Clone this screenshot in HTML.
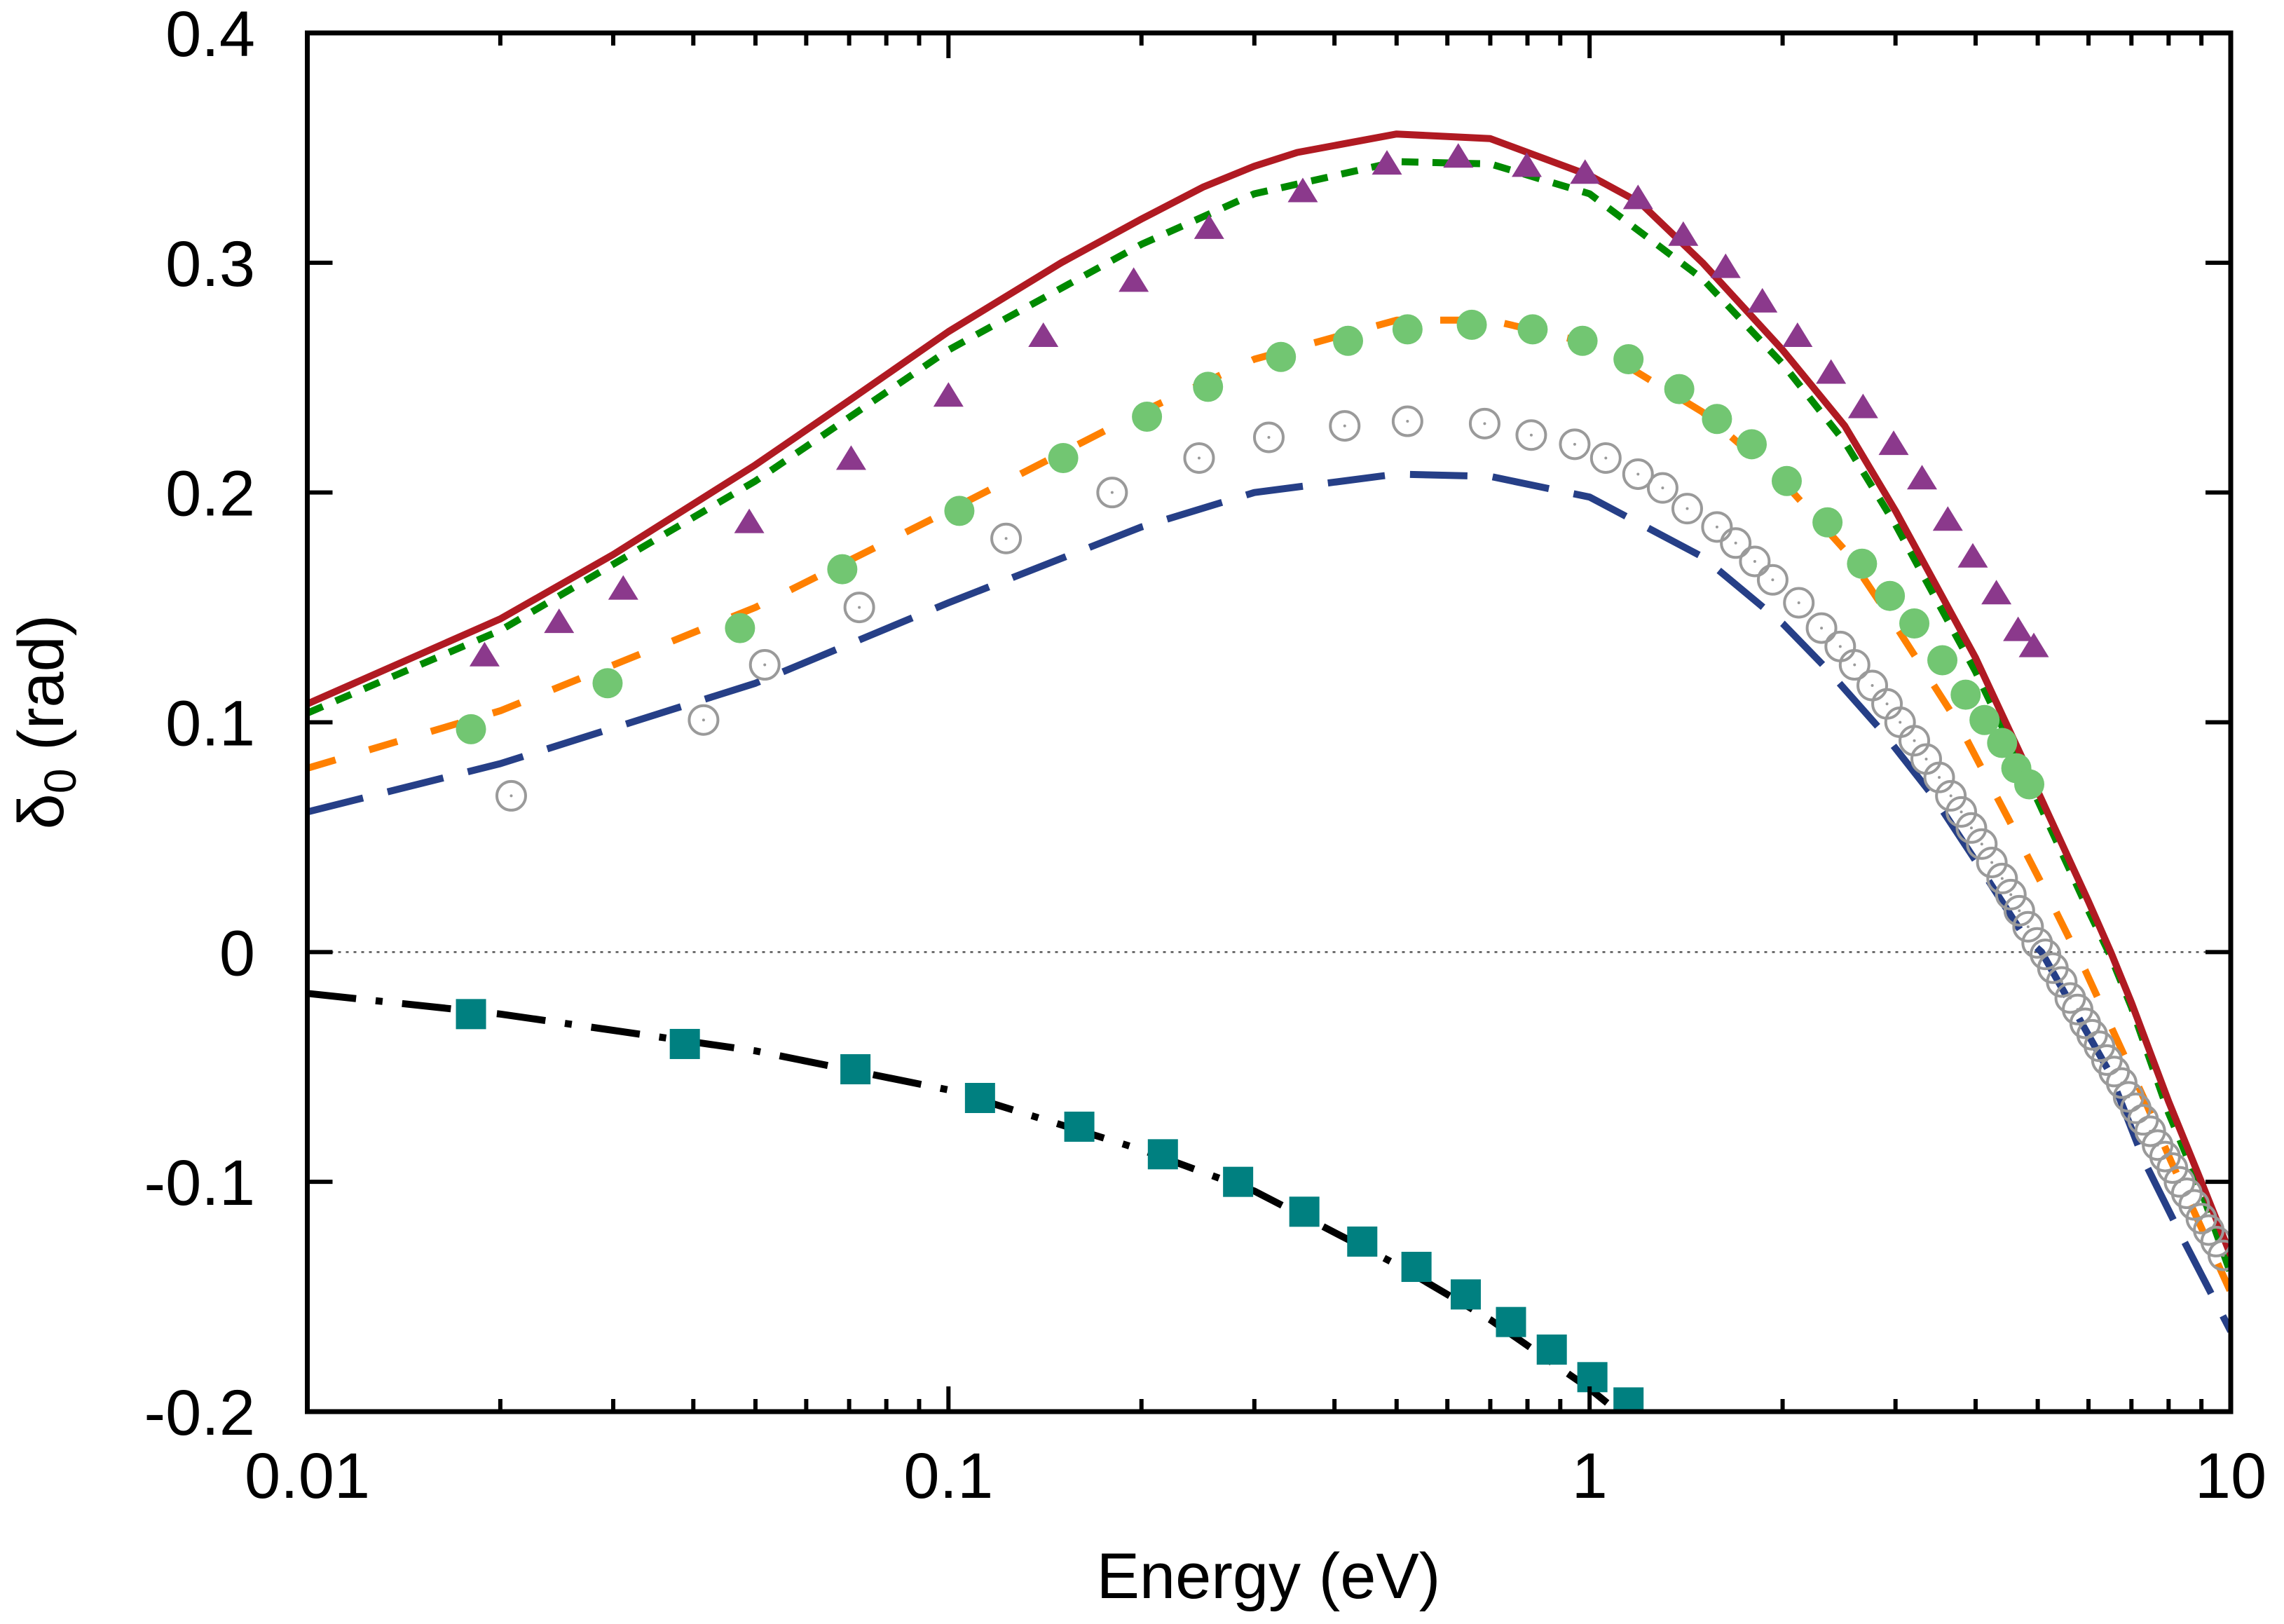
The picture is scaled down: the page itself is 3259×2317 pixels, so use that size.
<!DOCTYPE html>
<html><head><meta charset="utf-8">
<style>
html,body{margin:0;padding:0;background:#fff;}
svg{display:block;font-family:"Liberation Sans",sans-serif;}
</style></head>
<body>
<svg id="chart" width="3259" height="2317" viewBox="0 0 3259 2317" xmlns="http://www.w3.org/2000/svg">
<defs><clipPath id="clip"><rect x="438" y="47" width="2745" height="1967"/></clipPath></defs>
<g id="grid"></g>
<g id="series" clip-path="url(#clip)"></g>
<g id="marks" clip-path="url(#clip)"></g>
<rect x="438.5" y="47" width="2744.5" height="1967" fill="none" stroke="#000" stroke-width="7"/>
<g id="axes"></g>
<text x="1810" y="2280" font-size="92" text-anchor="middle">Energy (eV)</text>
<text transform="translate(90,1030) rotate(-90)" font-size="92" text-anchor="middle">δ<tspan font-size="64" dy="18">0</tspan><tspan dy="-18"> (rad)</tspan></text>
</svg>
<script>
const xTicks=[0.01,0.1,1,10];
const xTickLabels=["0.01","0.1","1","10"];
const yTicks=[-0.2,-0.1,0,0.1,0.2,0.3,0.4];
const yTickLabels=["-0.2","-0.1","0","0.1","0.2","0.3","0.4"];

const redE=[0.01,0.02,0.03,0.05,0.07,0.1,0.15,0.2,0.25,0.3,0.35,0.5,0.7,1,1.2,1.5,2,2.5,3,4,5,6,6.5,7,8,9,10];
const redV=[0.108,0.145,0.173,0.212,0.240,0.270,0.300,0.319,0.333,0.342,0.348,0.356,0.354,0.338,0.326,0.300,0.262,0.229,0.192,0.128,0.070,0.022,0.000,-0.022,-0.065,-0.100,-0.132];
const greenE=[0.01,0.02,0.05,0.1,0.2,0.3,0.5,0.7,1,1.5,2,2.5,3,4,5,6,6.5,7,8,9,10];
const greenV=[0.104,0.140,0.205,0.262,0.308,0.330,0.344,0.343,0.330,0.293,0.256,0.222,0.186,0.122,0.066,0.018,-0.002,-0.024,-0.070,-0.104,-0.140];
const orangeE=[0.01,0.02,0.05,0.1,0.2,0.3,0.5,0.7,1,1.5,2,2.5,3,3.75,4.5,5.33,5.93,7.33,8.07,10];
const orangeV=[0.080,0.105,0.150,0.192,0.235,0.258,0.275,0.275,0.265,0.235,0.205,0.175,0.142,0.100,0.058,0.018,-0.008,-0.064,-0.091,-0.148];
const blueE=[0.01,0.02,0.05,0.1,0.2,0.3,0.5,0.7,1,1.5,2,2.33,2.86,3.43,4.06,4.76,5.07,6.46,7.33,8.39,10];
const blueV=[0.061,0.082,0.117,0.152,0.185,0.200,0.208,0.207,0.198,0.172,0.143,0.124,0.096,0.068,0.037,0.007,0.000,-0.052,-0.091,-0.124,-0.165];
const blackE=[0.01,0.02,0.05,0.1,0.2,0.3,0.5,0.7,1,1.2];
const blackV=[-0.018,-0.027,-0.043,-0.060,-0.086,-0.104,-0.136,-0.160,-0.190,-0.208];

const triE=[0.0189,0.0247,0.0311,0.0489,0.0705,0.1,0.1406,0.1945,0.255,0.357,0.483,0.624,0.798,0.984,1.19,1.40,1.63,1.86,2.11,2.38,2.67,2.98,3.30,3.62,3.96,4.31,4.66,4.93];
const triV=[0.128,0.1425,0.157,0.186,0.2135,0.241,0.267,0.291,0.314,0.330,0.342,0.345,0.341,0.338,0.327,0.311,0.297,0.282,0.267,0.251,0.236,0.220,0.205,0.187,0.171,0.155,0.139,0.132];
const dotE=[0.0180,0.0294,0.0473,0.0683,0.104,0.151,0.204,0.254,0.330,0.420,0.520,0.655,0.815,0.975,1.15,1.38,1.58,1.79,2.03,2.35,2.66,2.94,3.21,3.55,3.86,4.13,4.40,4.63,4.85];
const dotV=[0.097,0.117,0.141,0.1666,0.192,0.215,0.233,0.246,0.259,0.266,0.271,0.273,0.271,0.266,0.258,0.245,0.232,0.221,0.205,0.187,0.169,0.155,0.143,0.127,0.112,0.101,0.091,0.080,0.073];
const ringE=[0.0208,0.0415,0.0517,0.0726,0.123,0.180,0.246,0.316,0.415,0.520,0.686,0.811,0.948,1.06,1.19,1.30,1.42,1.58,1.69,1.81,1.93,2.12,2.30,2.46,2.59,2.76,2.91,3.05,3.21,3.35,3.51,3.66,3.80,3.94,4.09,4.24,4.40,4.54,4.68,4.83,4.99,5.14,5.28,5.45,5.62,5.77,5.93,6.08,6.24,6.41,6.58,6.76,6.93,7.11,7.30,7.49,7.69,7.90,8.11,8.32,8.54,8.77,9.00,9.24,9.49,9.74];
const ringV=[0.068,0.101,0.125,0.150,0.180,0.200,0.215,0.224,0.229,0.231,0.230,0.225,0.221,0.215,0.208,0.202,0.193,0.185,0.178,0.170,0.162,0.152,0.141,0.133,0.125,0.116,0.108,0.100,0.092,0.084,0.076,0.068,0.061,0.054,0.047,0.039,0.032,0.025,0.018,0.011,0.004,-0.001,-0.007,-0.013,-0.020,-0.025,-0.031,-0.036,-0.041,-0.047,-0.052,-0.057,-0.063,-0.068,-0.073,-0.078,-0.084,-0.089,-0.094,-0.100,-0.105,-0.110,-0.116,-0.121,-0.126,-0.132];
const sqE=[0.0180,0.0388,0.0716,0.112,0.160,0.216,0.283,0.359,0.442,0.537,0.641,0.754,0.873,1.01,1.15];
const sqV=[-0.027,-0.040,-0.051,-0.0635,-0.076,-0.088,-0.100,-0.113,-0.126,-0.137,-0.149,-0.161,-0.173,-0.185,-0.196];

const X0=438.5,X1=3183,Y0=2014,Y1=47;
function sx(e){return X0+(Math.log10(e)+2)/3*(X1-X0);}
function sy(v){return Y0-(v+0.2)/0.6*(Y0-Y1);}
const NS="http://www.w3.org/2000/svg";
function mk(tag,attrs,parent){const el=document.createElementNS(NS,tag);for(const k in attrs)el.setAttribute(k,attrs[k]);parent.appendChild(el);return el;}
const axes=document.getElementById('axes'),series=document.getElementById('series'),marks=document.getElementById('marks'),grid=document.getElementById('grid');

let z=mk('line',{x1:X0,x2:X1,y1:sy(0),y2:sy(0),stroke:'#555','stroke-width':2.5,'stroke-dasharray':'4 7'},grid);



yTicks.forEach((v,i)=>{
  const y=sy(v);
  let t=mk('path',{d:`M${X0} ${y}h36M${X1} ${y}h-36`,stroke:'#000','stroke-width':6},axes);
  
  
  let l=mk('text',{x:364,y:y+33,'font-size':92,'text-anchor':'end'},axes);
  l.textContent=yTickLabels[i];
  
  
});
xTicks.forEach((e,i)=>{
  const x=sx(e);
  let t=mk('path',{d:`M${x} ${Y0}v-36M${x} ${Y1}v36`,stroke:'#000','stroke-width':6},axes);
  
  
  let l=mk('text',{x:x,y:2137,'font-size':92,'text-anchor':'middle'},axes);
  l.textContent=xTickLabels[i];
  
  
  if(i<xTicks.length-1){for(let m=2;m<=9;m++){const xm=sx(e*m);
    let mt=mk('path',{d:`M${xm} ${Y0}v-18M${xm} ${Y1}v18`,stroke:'#000','stroke-width':6},axes);
    
    }}
});

function line(E,V,color,dash,name){
  const d=E.map((e,i)=>(i?'L':'M')+sx(e).toFixed(1)+' '+sy(V[i]).toFixed(1)).join('');
  const p=mk('path',{d:d,fill:'none',stroke:color,'stroke-width':10,'stroke-dasharray':dash,'stroke-linejoin':'round'},series);
  
  
}
line(blueE,blueV,'#263F87','82 36','blue-long-dashed-curve');
line(orangeE,orangeV,'#FF8000','42 50','orange-dashed-curve');
line(greenE,greenV,'#008A00','24 20','green-dotted-curve');
line(redE,redV,'#B01A22','none','red-solid-curve');
line(blackE,blackV,'#000','70 28 10 28','black-dash-dot-curve');

ringE.forEach((e,i)=>{const x=sx(e),y=sy(ringV[i]);
  let c=mk('circle',{cx:x,cy:y,r:20.5,fill:'none',stroke:'#9A9A9A','stroke-width':4},marks);
  
  
  let d=mk('circle',{cx:x,cy:y,r:2,fill:'#9A9A9A'},marks);
  
  
});
dotE.forEach((e,i)=>{
  let c=mk('circle',{cx:sx(e),cy:sy(dotV[i]),r:21.5,fill:'#72C672'},marks);
  
  
});
triE.forEach((e,i)=>{const x=sx(e),y=sy(triV[i]);
  let t=mk('path',{d:`M${x} ${y-23}L${x+21.5} ${y+12}L${x-21.5} ${y+12}Z`,fill:'#8B398C'},marks);
  
  
});
sqE.forEach((e,i)=>{
  let s=mk('rect',{x:sx(e)-21.5,y:sy(sqV[i])-21.5,width:43,height:43,fill:'#008080'},marks);
  
  
});
</script>
</body></html>
